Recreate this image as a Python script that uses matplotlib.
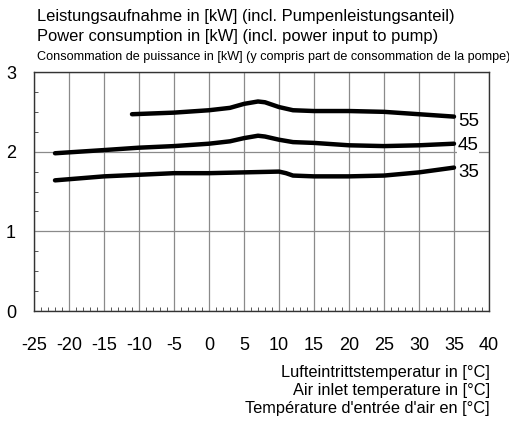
import matplotlib
matplotlib.use("Agg")
import matplotlib.pyplot as plt
from matplotlib.ticker import MultipleLocator

plt.rcParams['font.family'] = ['Liberation Sans', 'DejaVu Sans']
plt.rcParams['axes.unicode_minus'] = False

x55 = [-11, -5, 0, 3, 5, 7, 8, 10, 12, 15, 20, 25, 30, 35]
y55 = [2.47, 2.49, 2.52, 2.55, 2.60, 2.63, 2.62, 2.56, 2.52, 2.51, 2.51, 2.50, 2.47, 2.44]
x45 = [-22, -15, -10, -5, 0, 3, 5, 7, 8, 10, 12, 15, 20, 25, 30, 35]
y45 = [1.98, 2.02, 2.05, 2.07, 2.10, 2.13, 2.17, 2.20, 2.19, 2.15, 2.12, 2.11, 2.08, 2.07, 2.08, 2.10]
x35 = [-22, -15, -10, -5, 0, 5, 10, 11, 12, 15, 20, 25, 30, 35]
y35 = [1.64, 1.69, 1.71, 1.73, 1.73, 1.74, 1.75, 1.73, 1.70, 1.69, 1.69, 1.70, 1.74, 1.80]
series_labels = ['55', '45', '35']
xticks = list(range(-25, 41, 5))
yticks = [0, 1, 2, 3]

fig = plt.figure(figsize=(5.09, 4.21), dpi=100)
ax = fig.add_axes([34/509, 1-311/421, 455/509, 239/421])
ax.set_xlim(-25, 40)
ax.set_ylim(0, 3)

label_offsets = [-0.065, -0.02, -0.065]
for xs, ys, lab, off in zip([x55, x45, x35], [y55, y45, y35], series_labels, label_offsets):
    ax.plot(xs, ys, color='black', lw=3.2, solid_capstyle='round', solid_joinstyle='round', zorder=3)
    ax.text(xs[-1] + 0.55, ys[-1] + off, lab, fontsize=13.5, ha='left', va='center', zorder=4,
            bbox=dict(facecolor='white', edgecolor='none', pad=0.3))

ax.set_xticks(xticks)
ax.set_yticks(yticks)
ax.xaxis.set_minor_locator(MultipleLocator(1))
ax.yaxis.set_minor_locator(MultipleLocator(0.25))
ax.grid(True, which='major', color='#8a8a8a', lw=0.9)
ax.tick_params(which='both', direction='in', color='#555555')
ax.tick_params(which='major', length=0)
ax.tick_params(which='minor', length=3, width=0.7)
ax.tick_params(axis='x', labelsize=13, pad=19)
ax.tick_params(axis='y', labelsize=13, pad=13)
for s in ax.spines.values():
    s.set_color('#333333')
    s.set_linewidth(1.0)

fig.text(37/509, 1-17/421, 'Leistungsaufnahme in [kW] (incl. Pumpenleistungsanteil)', fontsize=11.9, va='center')
fig.text(37/509, 1-37/421, 'Power consumption in [kW] (incl. power input to pump)', fontsize=11.9, va='center')
fig.text(37/509, 1-57/421, 'Consommation de puissance in [kW] (y compris part de consommation de la pompe)',
         fontsize=9.1, va='center')

for yy, t in [(373, 'Lufteintrittstemperatur in [°C]'), (390, 'Air inlet temperature in [°C]'),
              (408, "Température d'entrée d'air en [°C]")]:
    fig.text(490/509, 1-yy/421, t, fontsize=11.8, ha='right', va='center')

fig.savefig('out.png', dpi=100)
